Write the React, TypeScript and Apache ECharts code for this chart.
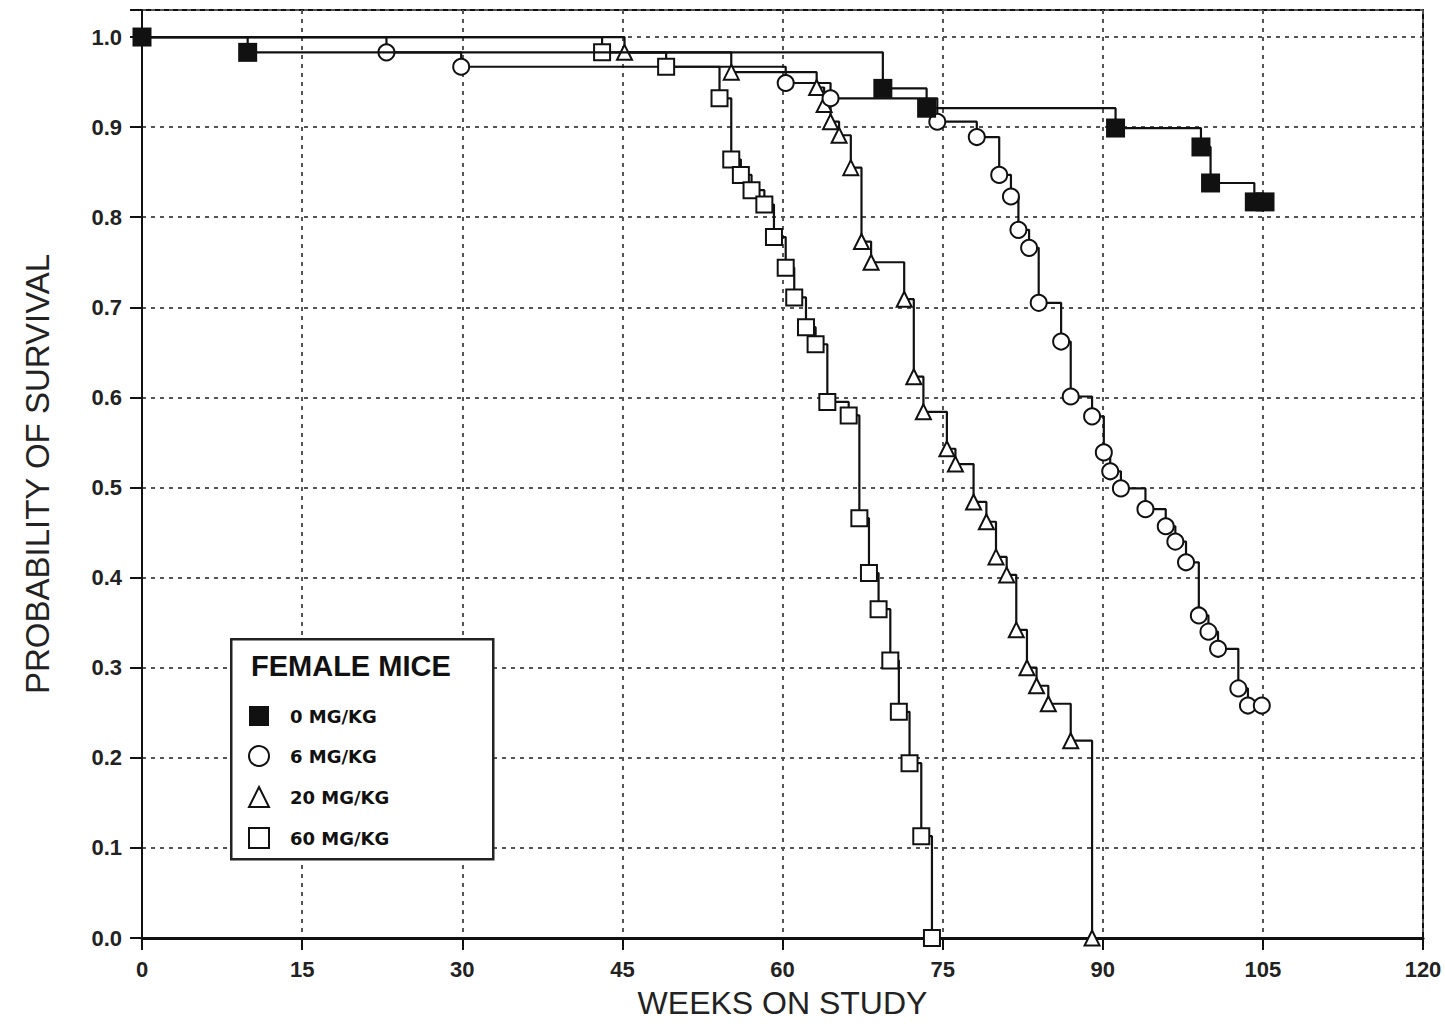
import React, { useEffect, useRef } from 'react';
import * as echarts from 'echarts';

// Kaplan-Meier survival, female mice: [week, probability]
const seriesNames = ['0 MG/KG', '6 MG/KG', '20 MG/KG', '60 MG/KG'];
const xTicks = [0, 15, 30, 45, 60, 75, 90, 105, 120];

const dose0: [number, number][] = [
  [0, 1], [9.9, 0.983], [69.4, 0.943], [73.5, 0.921], [91.2, 0.899], [99.2, 0.878],
  [100.1, 0.838], [104.2, 0.817], [105.2, 0.817],
];
const dose6: [number, number][] = [
  [0, 1], [22.9, 0.983], [29.9, 0.967], [60.3, 0.949], [64.5, 0.932], [74.5, 0.906],
  [78.2, 0.889], [80.3, 0.847], [81.4, 0.823], [82.1, 0.786], [83.1, 0.766], [84, 0.705],
  [86.1, 0.662], [87, 0.601], [89, 0.579], [90.1, 0.539], [90.7, 0.518], [91.7, 0.499],
  [94, 0.476], [95.9, 0.457], [96.8, 0.44], [97.8, 0.417], [99, 0.358], [99.9, 0.34],
  [100.8, 0.321], [102.7, 0.277], [103.6, 0.258], [104.9, 0.258],
];
const dose20: [number, number][] = [
  [0, 1], [45.2, 0.983], [55.2, 0.961], [63.2, 0.944], [63.9, 0.925], [64.5, 0.906],
  [65.3, 0.891], [66.4, 0.855], [67.4, 0.773], [68.3, 0.75], [71.4, 0.709], [72.3, 0.623],
  [73.2, 0.584], [75.4, 0.543], [76.2, 0.526], [77.9, 0.484], [79.1, 0.462], [80, 0.423],
  [81, 0.403], [81.9, 0.342], [82.9, 0.3], [83.8, 0.28], [84.9, 0.26], [87, 0.219], [89, 0],
];
const dose60: [number, number][] = [
  [0, 1], [43.1, 0.983], [49.1, 0.967], [54.1, 0.932], [55.2, 0.864], [56.1, 0.847],
  [57.1, 0.83], [58.3, 0.814], [59.2, 0.778], [60.3, 0.744], [61.1, 0.711], [62.2, 0.678],
  [63.1, 0.659], [64.2, 0.595], [66.2, 0.58], [67.2, 0.466], [68.1, 0.405], [69, 0.365],
  [70.1, 0.308], [70.9, 0.251], [71.9, 0.194], [73, 0.113], [74, 0],
];

const FONT = "'Liberation Sans', Arial, sans-serif";
const WIDE = "'DejaVu Sans', Verdana, sans-serif";

export default function App() {
  const ref = useRef<HTMLDivElement>(null);
  useEffect(() => {
    if (!ref.current) return;
    const chart = echarts.init(ref.current, undefined, { renderer: 'svg' });
    const lineStyle = { color: '#111', width: 2.2 };
    const mk = (name: string, data: [number, number][], symbol: string, size: number, z: number) => ({
      name,
      type: 'line',
      step: 'end',
      data,
      symbol,
      symbolSize: size,
      showAllSymbol: true,
      lineStyle,
      itemStyle: { color: '#111', borderWidth: 2 },
      z,
      emphasis: { disabled: true },
    });
    chart.setOption({
      animation: false,
      backgroundColor: '#fff',
      grid: {
        left: 142, right: 22, top: 10, bottom: 84,
        show: true, borderColor: '#111', borderWidth: 2, backgroundColor: 'transparent',
      },
      xAxis: {
        type: 'value', min: 0, max: 120, interval: 15,
        name: 'WEEKS ON STUDY', nameLocation: 'middle', nameGap: 49,
        nameTextStyle: { fontFamily: FONT, fontSize: 32, color: '#222' },
        axisLine: { show: true, lineStyle: { color: '#111', width: 3 } },
        axisTick: { show: true, length: 12, lineStyle: { color: '#111', width: 2 } },
        axisLabel: {
          margin: 20, fontFamily: FONT, fontSize: 22, fontWeight: 'bold', color: '#222',
          formatter: (v: number) => (xTicks.includes(v) ? String(v) : ''),
        },
        splitLine: { show: true, lineStyle: { color: '#555', width: 2, type: [4, 5] } },
      },
      yAxis: {
        type: 'value', min: 0, max: 1.03, interval: 0.1,
        name: 'PROBABILITY OF SURVIVAL', nameLocation: 'middle', nameGap: 88,
        nameTextStyle: { fontFamily: FONT, fontSize: 33, color: '#222' },
        axisLine: { show: true, lineStyle: { color: '#111', width: 2 } },
        axisTick: { show: true, length: 12, lineStyle: { color: '#111', width: 2 } },
        axisLabel: {
          margin: 20, fontFamily: FONT, fontSize: 22, fontWeight: 'bold', color: '#222',
          formatter: (v: number) =>
            Math.abs(v * 10 - Math.round(v * 10)) < 1e-6 ? v.toFixed(1) : '',
        },
        splitLine: { show: true, lineStyle: { color: '#555', width: 2, type: [4, 5] } },
      },
      legend: {
        orient: 'vertical', left: 243, top: 701,
        itemWidth: 20, itemHeight: 20, itemGap: 19,
        selectedMode: false,
        textStyle: {
          fontFamily: WIDE, fontSize: 18, fontWeight: 'bold', color: '#111',
          lineHeight: 20, padding: [0, 0, 0, 16],
        },
        data: [
          { name: seriesNames[0], icon: 'rect' },
          { name: seriesNames[1], icon: 'emptyCircle' },
          { name: seriesNames[2], icon: 'emptyTriangle' },
          { name: seriesNames[3], icon: 'emptyRect' },
        ],
        z: 6,
      },
      graphic: [
        {
          type: 'rect', left: 230, top: 638, z: 5,
          shape: { width: 262, height: 220 },
          style: { fill: '#fff', stroke: '#222', lineWidth: 2.5 },
        },
        {
          type: 'text', left: 251, top: 651, z: 7,
          style: { text: 'FEMALE MICE', font: `bold 29px ${FONT}`, fill: '#111' },
        },
      ],
      series: [
        mk(seriesNames[3], dose60, 'emptyRect', 16, 3),
        mk(seriesNames[2], dose20, 'emptyTriangle', 15, 3),
        mk(seriesNames[1], dose6, 'emptyCircle', 16, 3),
        mk(seriesNames[0], dose0, 'rect', 19, 4),
      ],
    });
    return () => chart.dispose();
  }, []);
  return (
    <div
      ref={ref}
      style={{ position: 'fixed', left: 0, top: 0, width: 1445, height: 1024, background: '#fff' }}
    />
  );
}
